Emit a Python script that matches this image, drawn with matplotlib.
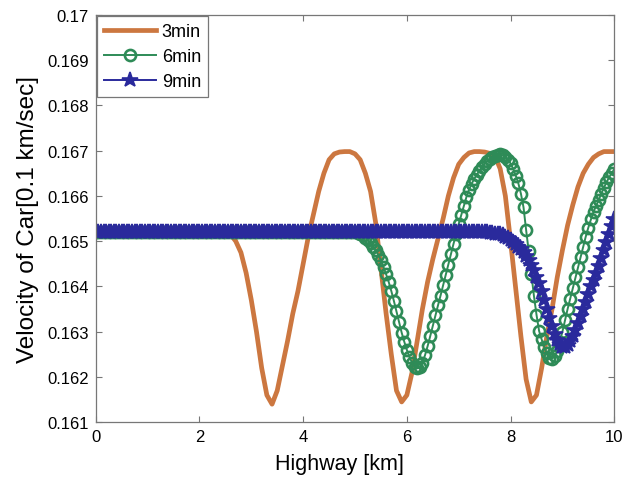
import numpy as np
import matplotlib
import matplotlib.pyplot as plt

matplotlib.use('Agg')

plt.rcParams['font.family'] = ['Liberation Sans', 'DejaVu Sans']

labels = ['3min', '6min', '9min']
flat_speed = 0.1652

# 3min: sampled every 0.1 km, flat until 2.4 km
v3_tail = [
    0.16520, 0.16515, 0.16500, 0.16475, 0.16430,
    0.16370, 0.16300, 0.16220, 0.16160, 0.16140,
    0.16170, 0.16225, 0.16280, 0.16340, 0.16390,
    0.16450, 0.16510, 0.16560, 0.16610, 0.16650,
    0.16680, 0.16693, 0.16697, 0.16698, 0.16698,
    0.16693, 0.16680, 0.16650, 0.16610, 0.16540,
    0.16440, 0.16340, 0.16250, 0.16170, 0.16145,
    0.16160, 0.16210, 0.16280, 0.16350, 0.16410,
    0.16460, 0.16505, 0.16550, 0.16600, 0.16640,
    0.16670, 0.16685, 0.16695, 0.16698, 0.16698,
    0.16697, 0.16694, 0.16688, 0.16660, 0.16600,
    0.16500, 0.16395, 0.16290, 0.16195, 0.16145,
    0.16160, 0.16220, 0.16290, 0.16350, 0.16420,
    0.16480, 0.16535, 0.16580, 0.16620, 0.16650,
    0.16670, 0.16685, 0.16693, 0.16698, 0.16698,
    0.16698,
]
v3 = [flat_speed] * 25 + v3_tail

# 6min: sampled every 0.05 km, flat until 4.95 km
v6_tail = [
    0.16520, 0.16519, 0.16517, 0.16513, 0.16508, 0.16502, 0.16495, 0.16488, 0.16480, 0.16470,
    0.16458, 0.16443, 0.16427, 0.16410, 0.16390, 0.16368, 0.16345, 0.16322, 0.16298, 0.16278,
    0.16260, 0.16244, 0.16232, 0.16223, 0.16219, 0.16222, 0.16232, 0.16248, 0.16268, 0.16290,
    0.16313, 0.16336, 0.16358, 0.16380, 0.16403, 0.16426, 0.16448, 0.16471, 0.16494, 0.16517,
    0.16538, 0.16558, 0.16578, 0.16598, 0.16614, 0.16627, 0.16638, 0.16647, 0.16656, 0.16664,
    0.16671, 0.16677, 0.16682, 0.16686, 0.16689, 0.16691, 0.16692, 0.16690, 0.16686, 0.16680,
    0.16672, 0.16660, 0.16645, 0.16628, 0.16605, 0.16575, 0.16525, 0.16478, 0.16428, 0.16380,
    0.16338, 0.16302, 0.16283, 0.16266, 0.16252, 0.16243, 0.16240, 0.16246, 0.16258, 0.16278,
    0.16300, 0.16325, 0.16350, 0.16373, 0.16396, 0.16420, 0.16443, 0.16466, 0.16488, 0.16510,
    0.16530, 0.16548, 0.16565, 0.16578, 0.16591, 0.16605, 0.16618, 0.16630, 0.16641, 0.16650,
    0.16659,
]
v6 = [flat_speed] * 100 + v6_tail

# 9min: sampled every 0.05 km, flat until 7.55 km
v9_tail = [
    0.16519, 0.16518, 0.16517, 0.16516, 0.16515, 0.16513, 0.16510, 0.16507,
    0.16503, 0.16499, 0.16494, 0.16488, 0.16482, 0.16476, 0.16468, 0.16459, 0.16448, 0.16436,
    0.16422, 0.16407, 0.16390, 0.16370, 0.16350, 0.16330, 0.16312, 0.16296, 0.16282, 0.16272,
    0.16267, 0.16266, 0.16270, 0.16279, 0.16290, 0.16304, 0.16319, 0.16334, 0.16350, 0.16366,
    0.16383, 0.16400, 0.16415, 0.16430, 0.16446, 0.16462, 0.16480, 0.16498, 0.16516, 0.16533,
    0.16550,
]
v9 = [flat_speed] * 152 + v9_tail

x3 = np.linspace(0, 10, len(v3))
x6 = np.linspace(0, 10, len(v6))
x9 = np.linspace(0, 10, len(v9))

fig = plt.figure(figsize=(6.3, 4.81), dpi=100)
ax = fig.add_axes([0.152, 0.12, 0.823, 0.847])

ax.plot(x3, v3, color='#CC7740', lw=3.4, label=labels[0])
ax.plot(x6, v6, color='#2E8B57', lw=1.4, marker='o', ms=8,
        mfc='none', mew=1.9, label=labels[1])
ax.plot(x9, v9, color='#2A2A9C', lw=1.4, marker='*', ms=11.5,
        mew=1.2, label=labels[2])

ax.set_xlim(0, 10)
ax.set_ylim(0.161, 0.17)
ax.set_xticks([0, 2, 4, 6, 8, 10])
ax.set_yticks(np.arange(0.161, 0.1705, 0.001))
ax.set_yticklabels(['0.161', '0.162', '0.163', '0.164', '0.165',
                    '0.166', '0.167', '0.168', '0.169', '0.17'])
ax.tick_params(direction='in', length=4, width=0.8, color='#777777',
               top=True, right=True, labelsize=12, pad=5)
for s in ax.spines.values():
    s.set_color('#777777')
    s.set_linewidth(0.9)

ax.set_xlabel('Highway [km]', fontsize=15.5, labelpad=5)
ax.xaxis.set_label_coords(0.47, -0.075)
ax.set_ylabel('Velocity of Car[0.1 km/sec]', fontsize=17.5, labelpad=6)

leg = ax.legend(loc='upper left', fontsize=13, fancybox=False, framealpha=1,
                edgecolor='#777777', borderaxespad=0.05, handlelength=2.9,
                handletextpad=0.3, labelspacing=0.45, borderpad=0.4)
leg.get_frame().set_linewidth(0.9)

plt.savefig('out.png', dpi=100)
